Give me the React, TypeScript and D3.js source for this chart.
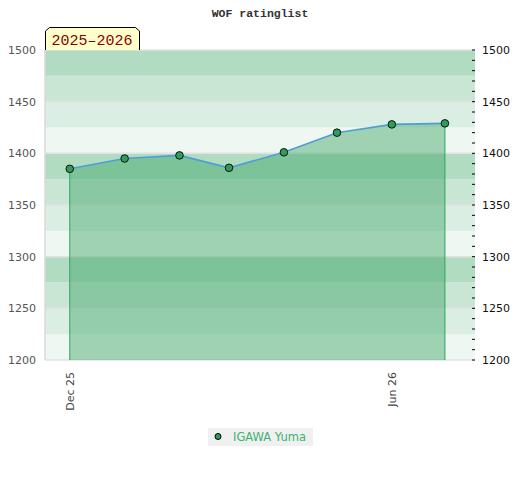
import React from 'react';
import * as d3 from 'd3';

// monthly rating points
const dates = ['2025-12-01', '2026-01-01', '2026-02-01', '2026-03-01', '2026-04-01', '2026-05-01', '2026-06-01', '2026-07-01'];
const ratings = [1385, 1395, 1398, 1386, 1401, 1420, 1428, 1429];
const yTicks = [1200, 1250, 1300, 1350, 1400, 1450, 1500];
const xTicks = ['2025-12-01', '2026-06-01'];
const xTickLabels = ['Dec 25', 'Jun 26'];
const bandColors = ['#b2dcc2', '#c9e5d4', '#dbeee3', '#eef7f1'];
const playerName = 'IGAWA Yuma';
const seasonLabel = '2025\u20132026';

const W = 520;
const H = 480;
const margin = { top: 50, right: 45, bottom: 120, left: 45 };

const App: React.FC = () => {
  const parse = d3.utcParse('%Y-%m-%d');
  const innerW = W - margin.left - margin.right;
  const innerH = H - margin.top - margin.bottom;

  const x = d3.scaleUtc()
    .domain([parse('2025-11-17')!, parse('2026-07-18')!])
    .range([0, innerW]);
  const y = d3.scaleLinear().domain([1200, 1500]).range([innerH, 0]);

  const pts = dates.map((d, i) => ({ date: parse(d)!, value: ratings[i] }));

  const line = d3.line<{ date: Date; value: number }>()
    .x(d => x(d.date))
    .y(d => y(d.value));
  const area = d3.area<{ date: Date; value: number }>()
    .x(d => x(d.date))
    .y0(innerH)
    .y1(d => y(d.value));

  // 25-point background bands
  const bands = d3.range(1200, 1500, 25);
  const minor = d3.range(1200, 1501, 10);
  const first = pts[0];
  const last = pts[pts.length - 1];

  const mono = '"Liberation Mono", "DejaVu Sans Mono", monospace';
  const sans = '"DejaVu Sans", sans-serif';

  return (
    <svg width={W} height={H} style={{ position: 'absolute', left: 0, top: 0 }}>
      <rect width={W} height={H} fill="#fff" />
      <text x={260} y={17} textAnchor="middle" fontFamily={mono} fontWeight="bold" fontSize={11.5} fill="#333">
        WOF ratinglist
      </text>

      <g transform={`translate(${margin.left},${margin.top})`}>
        {bands.map(b => {
          const idx = 3 - (((b - 1200) / 25) % 4);
          return (
            <rect key={b} x={0} y={y(b + 25)} width={innerW} height={y(b) - y(b + 25)} fill={bandColors[idx]} />
          );
        })}
        {yTicks.map(t => (
          <line key={t} x1={0} x2={innerW} y1={y(t)} y2={y(t)} stroke="#e2e2e2" strokeWidth={1.5} />
        ))}
        <line x1={0} x2={0} y1={0} y2={innerH} stroke="#d8d8d8" strokeWidth={1.5} />

        <path d={area(pts) || ''} fill="rgb(60,165,104)" fillOpacity={0.45} />
        <line x1={x(first.date)} x2={x(first.date)} y1={y(first.value)} y2={innerH} stroke="#2ea55a" strokeWidth={1} />
        <line x1={x(last.date)} x2={x(last.date)} y1={y(last.value)} y2={innerH} stroke="#2ea55a" strokeWidth={1} />
        <path d={line(pts) || ''} fill="none" stroke="#4f9dd6" strokeWidth={1.6} />
        {pts.map((p, i) => (
          <circle key={i} cx={x(p.date)} cy={y(p.value)} r={3.8} fill="#2e9d57" stroke="#111" strokeWidth={1} />
        ))}

        {/* left axis */}
        {yTicks.map(t => (
          <text key={t} x={-9} y={y(t) + 4} textAnchor="end" fontFamily={sans} fontSize={11} fill="#555">
            {t}
          </text>
        ))}
        {/* right axis */}
        {minor.map(t => (
          <line key={t} x1={innerW - 3} x2={innerW} y1={y(t)} y2={y(t)} stroke="#000" strokeWidth={1} />
        ))}
        {yTicks.map(t => (
          <text key={t} x={innerW + 7} y={y(t) + 4} fontFamily={sans} fontSize={11} fill="#111">
            {t}
          </text>
        ))}
        {/* x axis */}
        {xTicks.map((t, i) => (
          <text
            key={t}
            transform={`translate(${x(parse(t)!) + 4},${innerH + 12}) rotate(-90)`}
            textAnchor="end"
            fontFamily={sans}
            fontSize={11}
            fill="#444"
          >
            {xTickLabels[i]}
          </text>
        ))}
      </g>

      {/* season label */}
      <path d="M45.5,50 L45.5,31 L49.5,27.5 L135.5,27.5 L139.5,31 L139.5,50" fill="#ffffcc" stroke="#000" strokeWidth={1} />
      <text x={92} y={45} textAnchor="middle" fontFamily={mono} fontSize={15} fill="#8b0000">
        {seasonLabel}
      </text>

      {/* legend */}
      <rect x={208} y={428} width={105} height={18} fill="#f0f0f0" />
      <circle cx={218} cy={436.5} r={3} fill="#2e9d57" stroke="#000" strokeWidth={1} />
      <text x={233} y={441} fontFamily={sans} fontSize={11.5} fill="#3cb371">
        {playerName}
      </text>
    </svg>
  );
};

export default App;
